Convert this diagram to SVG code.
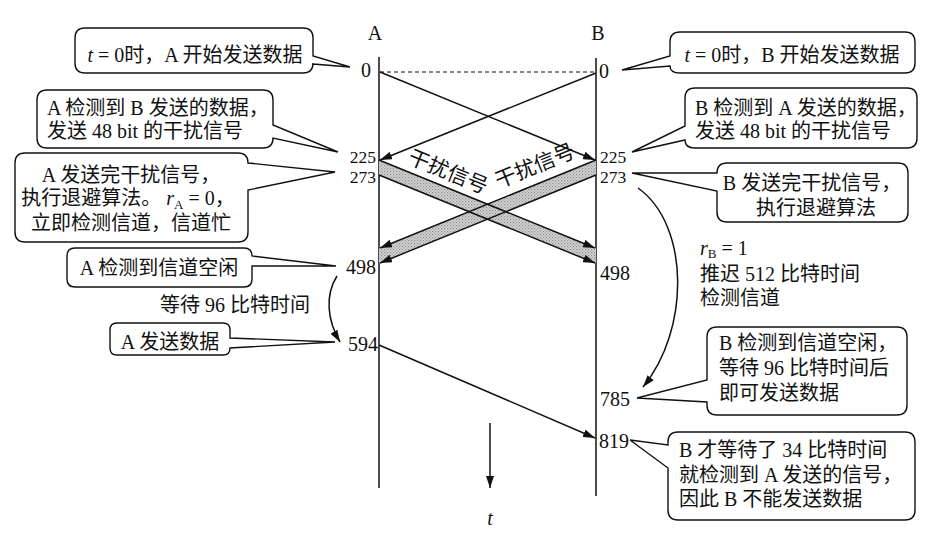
<svg xmlns="http://www.w3.org/2000/svg" width="931" height="538" viewBox="0 0 931 538">
<style>
text{font-family:"Liberation Serif","Noto Sans CJK SC",serif;font-size:20px;fill:#111}
.it{font-style:italic}
.sub{font-size:13px}
.num2{font-size:17.5px}
.box{fill:#fff;stroke:#111;stroke-width:1.4}
.ln{stroke:#111;stroke-width:1.5;fill:none}
.ar{stroke:#111;stroke-width:1.5;fill:none;marker-end:url(#ah)}
.band{fill:url(#dots);stroke:none}
</style>
<defs>
<marker id="ah" viewBox="0 0 12 8" refX="12" refY="4" markerWidth="12" markerHeight="8" orient="auto" markerUnits="userSpaceOnUse"><path d="M0,0 L12,4 L0,8 Z" fill="#111"/></marker>
<pattern id="dots" width="3" height="3" patternUnits="userSpaceOnUse"><rect width="3" height="3" fill="#d6d6d6"/><rect width="1.2" height="1.2" fill="#8a8a8a"/><rect x="1.5" y="1.5" width="1.2" height="1.2" fill="#9a9a9a"/></pattern>
</defs>

<g id="connectors">
  <line class="ln" x1="379" y1="57" x2="379" y2="488"/>
  <line class="ln" x1="596" y1="58" x2="596" y2="496"/>
  <line x1="380" y1="72" x2="596" y2="72" stroke="#111" stroke-width="1.2" stroke-dasharray="4,3"/>
  <polygon class="band" points="379,160 379,175 596,263 596,248"/>
  <polygon class="band" points="596,160 596,175 379,263 379,248"/>
  <line class="ar" x1="380" y1="72" x2="595" y2="160"/>
  <line class="ar" x1="596" y1="73" x2="380" y2="160"/>
  <line class="ar" x1="379" y1="160" x2="595" y2="248"/>
  <line class="ar" x1="379" y1="175" x2="595" y2="263"/>
  <line class="ar" x1="596" y1="160" x2="380" y2="248"/>
  <line class="ar" x1="596" y1="175" x2="380" y2="263"/>
  <line class="ar" x1="379" y1="345" x2="595" y2="438"/>
  <path class="ar" d="M337,276 C325,295 327,320 340,342"/>
  <path class="ar" d="M638,188 C690,225 690,330 643,387"/>
  <line class="ar" x1="490" y1="423" x2="490" y2="488"/>
</g>

<g id="axis-labels">
  <text x="375" y="40" text-anchor="middle">A</text>
  <text x="598" y="40" text-anchor="middle">B</text>
  <text x="490" y="525" text-anchor="middle" class="it">t</text>
  <text transform="translate(448,172) rotate(22)" x="0" y="7" text-anchor="middle" style="font-size:21px">干扰信号</text>
  <text transform="translate(535,166) rotate(-22)" x="0" y="7" text-anchor="middle" style="font-size:21px">干扰信号</text>
</g>

<g id="times-A" text-anchor="end">
  <text x="371" y="77">0</text>
  <text class="num2" x="376" y="163">225</text>
  <text class="num2" x="376" y="183">273</text>
  <text x="376" y="274">498</text>
  <text x="378" y="351">594</text>
</g>
<g id="times-B">
  <text x="599" y="78">0</text>
  <text class="num2" x="600" y="163">225</text>
  <text class="num2" x="600" y="183">273</text>
  <text x="600" y="280">498</text>
  <text x="600" y="406">785</text>
  <text x="599" y="448">819</text>
</g>

<g id="callout-A0">
  <path class="box" d="M85,28 H303 Q313,28 313,38 V56 L350,67 L313,64 V63 Q313,73 303,73 H85 Q75,73 75,63 V38 Q75,28 85,28 Z"/>
  <text x="195" y="62" text-anchor="middle"><tspan class="it">t</tspan> = 0时，A 开始发送数据</text>
</g>
<g id="callout-A225">
  <path class="box" d="M47,90 H263 Q273,90 273,100 V125 L338,152 L273,138 Q273,148 263,148 H47 Q37,148 37,138 V100 Q37,90 47,90 Z"/>
  <text x="47" y="115">A 检测到 B 发送的数据，</text>
  <text x="47" y="138">发送 48 bit 的干扰信号</text>
</g>
<g id="callout-A273">
  <path class="box" d="M25,153 H238 Q248,153 248,163 L335,172 L248,190 V232 Q248,242 238,242 H25 Q15,242 15,232 V163 Q15,153 25,153 Z"/>
  <text x="131" y="182" text-anchor="middle">A 发送完干扰信号，</text>
  <text x="128" y="205" text-anchor="middle">执行退避算法。 <tspan class="it">r</tspan><tspan class="sub" dy="4">A</tspan><tspan dy="-4"> = 0，</tspan></text>
  <text x="131" y="230" text-anchor="middle">立即检测信道，信道忙</text>
</g>
<g id="callout-A498">
  <path class="box" d="M75,248 H244 Q252,248 252,256 L336,266 L252,266 V279 Q252,287 244,287 H75 Q67,287 67,279 V256 Q67,248 75,248 Z"/>
  <text x="159" y="275" text-anchor="middle">A 检测到信道空闲</text>
</g>
<g id="wait-A">
  <text x="160" y="312">等待 96 比特时间</text>
</g>
<g id="callout-A594">
  <path class="box" d="M117,323 H223 Q230,323 230,330 V338 L335,342 L230,348 Q230,355 223,355 H117 Q110,355 110,348 V330 Q110,323 117,323 Z"/>
  <text x="170" y="349" text-anchor="middle">A 发送数据</text>
</g>

<g id="callout-B0">
  <path class="box" d="M680,32 H905 Q915,32 915,42 V63 Q915,73 905,73 H680 Q670,73 670,66 L622,70 L670,56 V42 Q670,32 680,32 Z"/>
  <text x="792" y="62" text-anchor="middle"><tspan class="it">t</tspan> = 0时，B 开始发送数据</text>
</g>
<g id="callout-B225">
  <path class="box" d="M695,88 H907 Q917,88 917,98 V138 Q917,148 907,148 H695 Q685,148 685,140 L632,152 L685,126 V98 Q685,88 695,88 Z"/>
  <text x="695" y="115">B 检测到 A 发送的数据，</text>
  <text x="695" y="138">发送 48 bit 的干扰信号</text>
</g>
<g id="callout-B273">
  <path class="box" d="M727,163 H898 Q908,163 908,173 V212 Q908,222 898,222 H727 Q717,222 717,212 V191 L632,173 L717,173 Q717,163 727,163 Z"/>
  <text x="812" y="190" text-anchor="middle">B 发送完干扰信号，</text>
  <text x="816" y="215" text-anchor="middle">执行退避算法</text>
</g>
<g id="note-B-backoff">
  <text x="700" y="255"><tspan class="it">r</tspan><tspan class="sub" dy="3">B</tspan><tspan dy="-3"> = 1</tspan></text>
  <text x="700" y="281">推迟 512 比特时间</text>
  <text x="700" y="305">检测信道</text>
</g>
<g id="callout-B785">
  <path class="box" d="M717,327 H897 Q907,327 907,337 V405 Q907,415 897,415 H717 Q707,415 707,405 V402 L637,398 L707,380 V337 Q707,327 717,327 Z"/>
  <text x="719" y="350">B 检测到信道空闲，</text>
  <text x="719" y="375">等待 96 比特时间后</text>
  <text x="719" y="400">即可发送数据</text>
</g>
<g id="callout-B819">
  <path class="box" d="M678,432 H905 Q915,432 915,442 V510 Q915,520 905,520 H678 Q668,520 668,510 V468 L630,440 L668,445 V442 Q668,432 678,432 Z"/>
  <text x="679" y="457">B 才等待了 34 比特时间</text>
  <text x="679" y="482">就检测到 A 发送的信号，</text>
  <text x="679" y="506">因此 B 不能发送数据</text>
</g>
</svg>
